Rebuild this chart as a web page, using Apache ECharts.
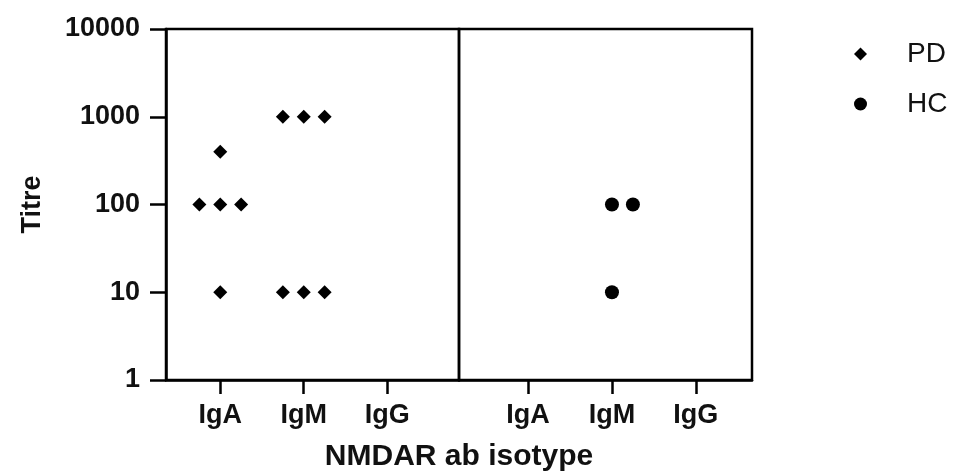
<!DOCTYPE html>
<html>
<head>
<meta charset="utf-8">
<script src="https://cdn.jsdelivr.net/npm/echarts@6/dist/echarts.min.js"></script>
<style>
  html, body { margin: 0; padding: 0; background: #fff; }
  #main { width: 956px; height: 476px; }
</style>
</head>
<body>
<div id="main"></div>
<script>
// categories on the x axis (same for both panels)
const isotypes = ["IgA", "IgM", "IgG"];
const yTicks = [1, 10, 100, 1000, 10000];

// PD group
const pdIsotype = ["IgA", "IgA", "IgA", "IgA", "IgA", "IgM", "IgM", "IgM", "IgM", "IgM", "IgM"];
const pdTitre = [400, 100, 100, 100, 10, 1000, 1000, 1000, 10, 10, 10];

// HC group
const hcIsotype = ["IgM", "IgM", "IgM"];
const hcTitre = [100, 100, 10];

// spread identical values side by side (centre, right, left)
function spread(iso, titre) {
  let seen = {};
  let slots = [0, 1, -1, 2, -2];
  return iso.map((c, i) => {
    let key = c + "_" + titre[i];
    let n = seen[key] || 0;
    seen[key] = n + 1;
    return [isotypes.indexOf(c) + 1 + slots[n] * 0.25, titre[i]];
  });
}

const font = "Liberation Sans, Arial, sans-serif";

function xAxisFor(gridIndex, min, max) {
  return {
    type: "value",
    gridIndex: gridIndex,
    min: min,
    max: max,
    splitLine: { show: false },
    axisLine: { show: true, lineStyle: { color: "#000", width: 2.5 } },
    axisTick: {
      show: true,
      customValues: [1, 2, 3],
      length: 14,
      lineStyle: { color: "#000", width: 2.5 }
    },
    axisLabel: {
      customValues: [1, 2, 3],
      formatter: v => isotypes[Math.round(v) - 1] || "",
      margin: 22,
      color: "#111",
      fontFamily: font,
      fontWeight: "bold",
      fontSize: 27
    }
  };
}

let myChart = echarts.init(document.getElementById("main"));
myChart.setOption({
  animation: false,
  backgroundColor: "#fff",
  textStyle: { fontFamily: font },
  legend: {
    orient: "vertical",
    left: 849,
    top: 35,
    itemWidth: 13,
    itemHeight: 13,
    itemGap: 22,
    textStyle: { fontSize: 28, color: "#111", fontFamily: font, padding: [0, 0, 0, 35] },
    data: [
      { name: "PD", icon: "diamond" },
      { name: "HC", icon: "circle" }
    ]
  },
  grid: [
    { left: 166, right: 497, top: 29, bottom: 96, show: true, borderColor: "#000", borderWidth: 2.5 },
    { left: 459, right: 204, top: 29, bottom: 96, show: true, borderColor: "#000", borderWidth: 2.5 }
  ],
  xAxis: [
    xAxisFor(0, 0.35, 3.86),
    xAxisFor(1, 0.176, 3.67)
  ],
  yAxis: [
    {
      type: "log",
      gridIndex: 0,
      logBase: 10,
      min: yTicks[0],
      max: yTicks[yTicks.length - 1],
      interval: 1,
      name: "Titre",
      nameLocation: "middle",
      nameGap: 120,
      nameTextStyle: { fontSize: 27, fontWeight: "bold", color: "#111", fontFamily: font },
      splitLine: { show: false },
      axisLine: { show: true, lineStyle: { color: "#000", width: 2.5 } },
      axisTick: { show: true, length: 16, lineStyle: { color: "#000", width: 2.5 } },
      axisLabel: {
        margin: 26,
        color: "#111",
        fontFamily: font,
        fontWeight: "bold",
        fontSize: 27,
        formatter: v => String(v)
      }
    },
    {
      type: "log",
      gridIndex: 1,
      logBase: 10,
      min: yTicks[0],
      max: yTicks[yTicks.length - 1],
      show: false,
      splitLine: { show: false }
    }
  ],
  series: [
    {
      name: "PD",
      type: "scatter",
      xAxisIndex: 0,
      yAxisIndex: 0,
      symbol: "diamond",
      symbolSize: [14, 14],
      itemStyle: { color: "#000", opacity: 1 },
      data: spread(pdIsotype, pdTitre)
    },
    {
      name: "HC",
      type: "scatter",
      xAxisIndex: 1,
      yAxisIndex: 1,
      symbol: "circle",
      symbolSize: 14,
      itemStyle: { color: "#000", opacity: 1 },
      data: spread(hcIsotype, hcTitre)
    }
  ],
  graphic: [
    {
      type: "text",
      x: 459,
      y: 457,
      style: {
        text: "NMDAR ab isotype",
        align: "center",
        verticalAlign: "middle",
        fill: "#111",
        font: "bold 30px " + font
      }
    }
  ]
});
window.addEventListener("resize", function() {
  myChart.resize();
});
</script>
</body>
</html>
